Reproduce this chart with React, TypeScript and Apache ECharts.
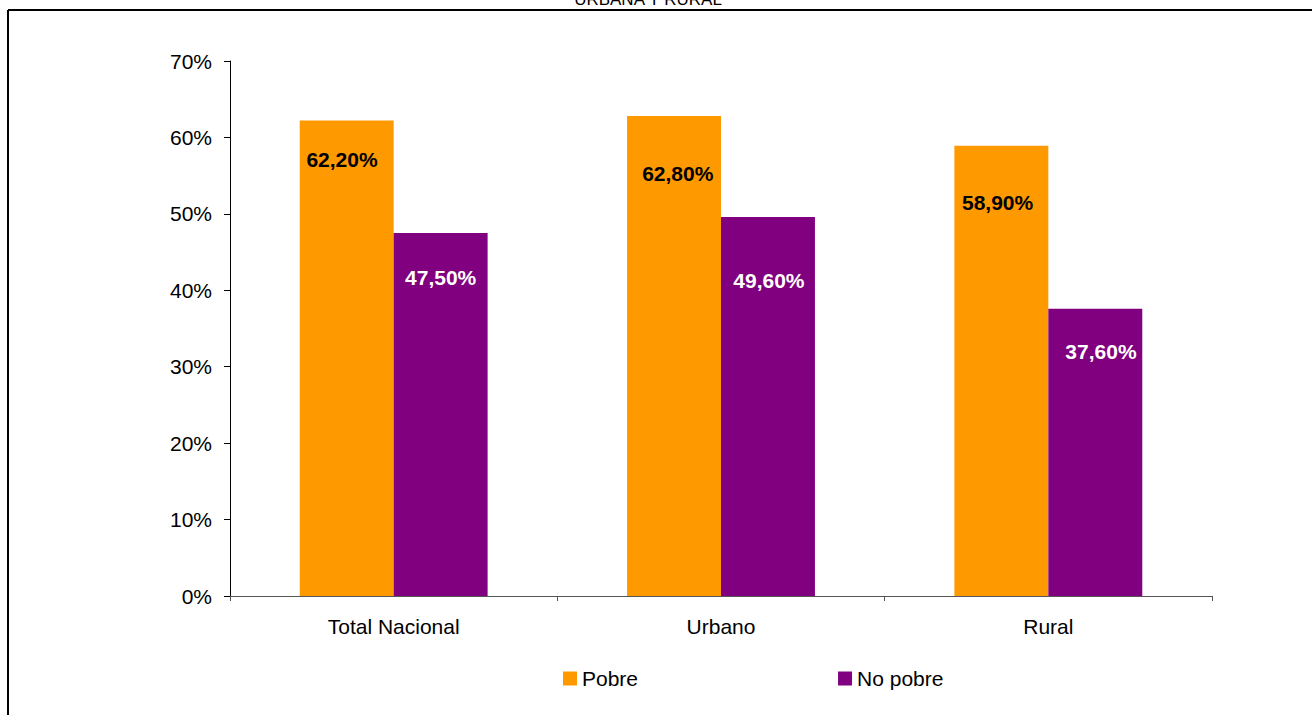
import React, { useEffect, useRef } from "react";
import * as echarts from "echarts";

const categories = ["Total Nacional", "Urbano", "Rural"];
const pobre = [62.2, 62.8, 58.9];
const noPobre = [47.5, 49.6, 37.6];
const yTicks = [0, 10, 20, 30, 40, 50, 60, 70];
const seriesNames = ["Pobre", "No pobre"];
const titleText = "URBANA Y RURAL";

// label placement (style only): [x, y] inside each bar
const pobreLabelPos = [["45%", 39], ["54%", 57], ["46%", 57]];
const noPobreLabelPos = [["50%", 45], ["51%", 64], ["56%", 43]];

const FONT = "'Liberation Sans', Arial, sans-serif";

const fmt = (v: number) => v.toFixed(2).replace(".", ",") + "%";

export default function App() {
  const ref = useRef<HTMLDivElement>(null);
  useEffect(() => {
    document.body.style.margin = "0";
    const chart = echarts.init(ref.current!, null, { renderer: "svg" });
    const mk = (vals: number[], pos: any[], labelColor: string) =>
      vals.map((v, i) => ({
        value: v,
        label: {
          show: true,
          position: pos[i],
          align: "center",
          verticalAlign: "middle",
          formatter: () => fmt(v),
          color: labelColor,
          fontWeight: "bold",
          fontSize: 21,
          fontFamily: FONT,
        },
      }));
    chart.setOption({
      animation: false,
      backgroundColor: "#ffffff",
      textStyle: { fontFamily: FONT },
      graphic: [
        {
          type: "line",
          shape: { x1: 8, y1: 10, x2: 1312, y2: 10 },
          style: { stroke: "#000", lineWidth: 2 },
        },
        {
          type: "line",
          shape: { x1: 8, y1: 10, x2: 8, y2: 715 },
          style: { stroke: "#000", lineWidth: 2 },
        },
        {
          type: "text",
          x: 648,
          y: 8,
          style: {
            text: titleText,
            fontSize: 17,
            fontFamily: FONT,
            fill: "#000",
            align: "center",
            verticalAlign: "bottom",
          },
        },
      ],
      legend: {
        data: seriesNames,
        left: 558,
        top: 663,
        icon: "rect",
        itemWidth: 14,
        itemHeight: 14,
        itemGap: 200,
        textStyle: { fontSize: 21, color: "#000", fontFamily: FONT },
      },
      grid: { left: 230, right: 100, top: 61, bottom: 119, containLabel: false },
      xAxis: {
        type: "category",
        data: categories,
        axisLine: { lineStyle: { color: "#555", width: 1 } },
        axisTick: { show: true, length: 5, lineStyle: { color: "#555" } },
        axisLabel: { fontSize: 21, color: "#000", margin: 20, fontFamily: FONT },
      },
      yAxis: {
        type: "value",
        min: yTicks[0],
        max: yTicks[yTicks.length - 1],
        interval: 10,
        splitLine: { show: false },
        axisLine: { show: true, lineStyle: { color: "#000", width: 1 } },
        axisTick: { show: true, length: 6, lineStyle: { color: "#000" } },
        axisLabel: {
          fontSize: 21,
          color: "#000",
          margin: 18,
          fontFamily: FONT,
          formatter: (v: number) => v + "%",
        },
      },
      series: [
        {
          name: seriesNames[0],
          type: "bar",
          data: mk(pobre, pobreLabelPos, "#000"),
          itemStyle: { color: "#FF9900" },
          barGap: "0%",
          barCategoryGap: "42.6%",
        },
        {
          name: seriesNames[1],
          type: "bar",
          data: mk(noPobre, noPobreLabelPos, "#fff"),
          itemStyle: { color: "#800080" },
          barGap: "0%",
          barCategoryGap: "42.6%",
        },
      ],
    });
    return () => chart.dispose();
  }, []);
  return <div ref={ref} style={{ width: 1312, height: 715 }} />;
}
